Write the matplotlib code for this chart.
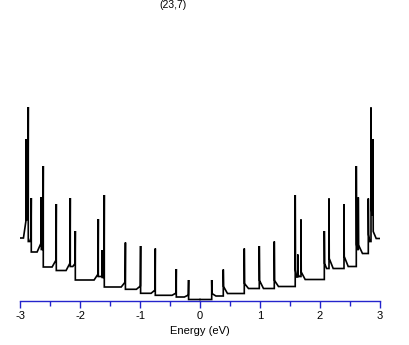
import matplotlib
matplotlib.use("Agg")
import matplotlib.pyplot as plt
from matplotlib.ticker import MultipleLocator
plt.rcParams["axes.unicode_minus"] = False

# van Hove singularities of the (23,7) tube, listed from the gap outwards
# |E| in eV, heights in arbitrary DOS units
e_neg = [0.19, 0.395, 0.745, 0.99, 1.243, 1.595, 1.628, 1.695, 2.078, 2.162,
         2.395, 2.612, 2.645, 2.812, 2.862, 2.895]
peak_neg = [19.5, 30.5, 51, 53.5, 57, 104.5, 49.5, 80.5, 68.5, 101.5,
            95.5, 133.5, 102.5, 101.5, 192.5, 160.5]
shoulder_neg = [4.5, 6.5, 9.5, 13.5, 17.5, 24, 23, 25.5, 36, 36.5,
                39.5, 60, 56.5, 62, 95, 79.5]
floor_neg = [2.5, 4.2, 6.2, 10.2, 12.5, 22, 23, 19.5, 33, 29,
             32.5, 50, 47.5, 58, 80, 61.5]

e_pos = [0.195, 0.388, 0.738, 0.988, 1.238, 1.587, 1.63, 1.683, 2.072, 2.15,
         2.40, 2.605, 2.638, 2.805, 2.85, 2.883]
peak_pos = [19.5, 30, 51, 53.5, 58, 104.5, 45, 80, 68.5, 101,
            95.5, 133.5, 102, 101, 192, 160.5]
shoulder_pos = [6, 13, 16, 19, 19, 29.5, 25, 27.5, 36, 41,
                43, 55, 54.5, 65, 95, 68]
floor_pos = [3.5, 6, 11, 11, 13, 22.5, 23, 20, 31, 31,
             33, 50, 46, 58, 85, 61]

e_end = 2.99


def branch(e, peak, shoulder, floor, sign):
    xs, ys = [0.0], [0.0]
    prev = 0.0
    for k in range(len(e)):
        nxt = e[k + 1] if k + 1 < len(e) else e_end
        gap = nxt - e[k]
        xs += [e[k], e[k], e[k] + 0.004, e[k] + min(0.07, 0.5 * gap), nxt]
        ys += [prev, peak[k], shoulder[k], floor[k], floor[k]]
        prev = floor[k]
    return [sign * x for x in xs], ys


fig = plt.figure(figsize=(4.09, 3.45), dpi=100)
ax = fig.add_axes([20 / 409, 44 / 345, 360 / 409, 325 / 345 - 44 / 345])

for args, sign in [((e_neg, peak_neg, shoulder_neg, floor_neg), -1),
                   ((e_pos, peak_pos, shoulder_pos, floor_pos), 1)]:
    x, y = branch(*args, sign)
    ax.plot(x, y, color="black", lw=1.2, solid_joinstyle="miter")

ax.set_xlim(-3, 3)
ax.set_ylim(-1.5, 279.5)
for s in ["top", "left", "right"]:
    ax.spines[s].set_visible(False)
blue = "#2424cc"
ax.spines["bottom"].set_color(blue)
ax.spines["bottom"].set_linewidth(1.0)
ax.set_yticks([])
ax.xaxis.set_major_locator(MultipleLocator(1))
ax.xaxis.set_minor_locator(MultipleLocator(0.5))
ax.tick_params(axis="x", which="major", direction="out", length=4.8, width=1.0,
               color=blue, pad=2.5, labelsize=8, labelcolor="black")
ax.tick_params(axis="x", which="minor", direction="out", length=3.6, width=1.0,
               color=blue)
for t in ax.get_xticklabels():
    t.set_family("Liberation Sans")

fig.text(200 / 409, 1 - 331.5 / 345, "Energy (eV)", ha="center", va="center",
         fontsize=8, family="Liberation Sans")
fig.text(172.5 / 409, 1 - 5.5 / 345, "(23,7)", ha="center", va="center",
         fontsize=7.5, family="Liberation Sans")

fig.savefig("out.png", dpi=100)
